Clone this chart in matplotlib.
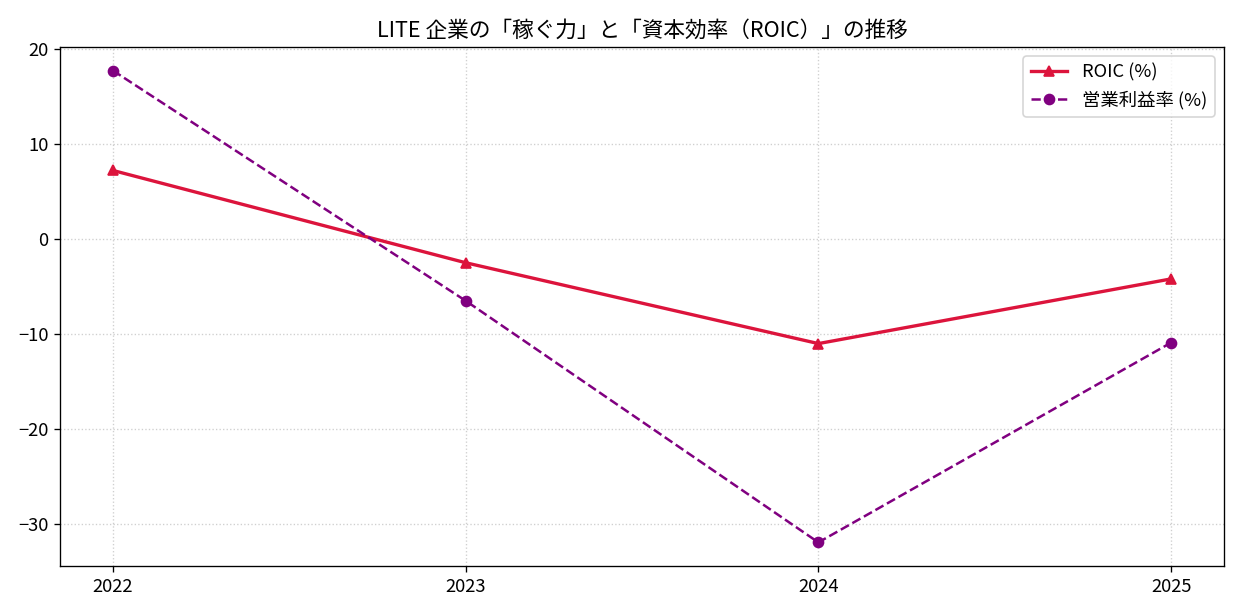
import matplotlib
matplotlib.use("Agg")
import matplotlib.pyplot as plt

plt.rcParams['font.family'] = ['Noto Sans CJK JP', 'DejaVu Sans']
plt.rcParams['axes.unicode_minus'] = True

years = ["2022", "2023", "2024", "2025"]
roic = [7.2, -2.5, -11.0, -4.2]
op_margin = [17.7, -6.5, -31.9, -10.9]

fig = plt.figure(figsize=(1238 / 120, 616 / 120), dpi=120)
ax = fig.add_axes([0.0485, 0.0812, 0.9402, 0.8425])

x = range(len(years))
ax.plot(x, roic, marker="^", color="crimson", linewidth=2, markersize=6, label="ROIC (%)")
ax.plot(x, op_margin, marker="o", linestyle="--", color="purple", linewidth=1.5, markersize=6,
        label="営業利益率 (%)")

ax.set_xticks(list(x))
ax.set_xticklabels(years)
ax.tick_params(labelsize=11)
ax.set_title("LITE 企業の「稼ぐ力」と「資本効率（ROIC）」の推移", fontsize=13)
ax.grid(True, linestyle=":", alpha=0.6)
ax.legend(loc="upper right", fontsize=11)

fig.savefig("out.png", dpi=120)
